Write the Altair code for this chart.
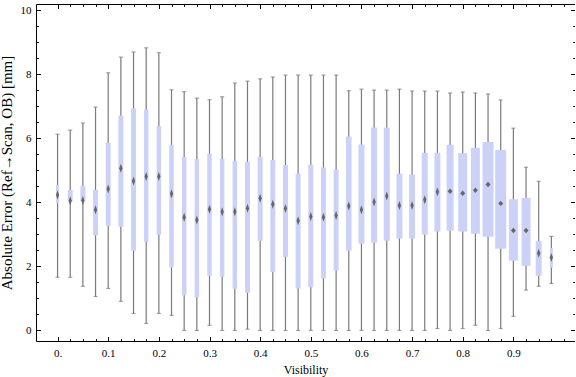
import altair as alt
import pandas as pd

# ---------------- data ----------------
visibility = [0.000, 0.025, 0.050, 0.075, 0.100, 0.125, 0.150, 0.175, 0.200, 0.225,
              0.250, 0.275, 0.300, 0.325, 0.350, 0.375, 0.400, 0.425, 0.450, 0.475,
              0.500, 0.525, 0.550, 0.575, 0.600, 0.625, 0.650, 0.675, 0.700, 0.725,
              0.750, 0.775, 0.800, 0.825, 0.850, 0.875, 0.900, 0.925, 0.950, 0.975]
whisker_low = [1.66, 1.66, 1.38, 1.06, 1.31, 0.91, 0.53, 0.22, 0.53, 0.47,
               0.00, 0.00, 0.16, 0.00, 0.00, 0.04, 0.00, 0.00, 0.00, 0.00,
               0.00, 0.00, 0.00, 0.00, 0.00, 0.00, 0.00, 0.00, 0.00, 0.00,
               0.06, 0.00, 0.06, 0.16, 0.00, 0.06, 0.44, 1.26, 1.38, 1.47]
quartile1 = [3.97, 4.03, 4.03, 2.97, 3.27, 3.24, 2.49, 2.77, 2.99, 1.97,
             1.10, 1.04, 1.70, 1.68, 1.30, 1.18, 2.80, 1.82, 2.30, 1.31,
             1.35, 1.63, 1.87, 2.49, 2.71, 2.74, 2.80, 2.87, 2.87, 2.99,
             3.09, 3.12, 3.09, 3.02, 2.93, 2.55, 2.18, 2.02, 1.71, 1.96]
median = [4.23, 4.05, 4.06, 3.77, 4.42, 5.07, 4.67, 4.81, 4.81, 4.27,
          3.54, 3.45, 3.79, 3.71, 3.71, 3.82, 4.13, 3.94, 3.81, 3.43,
          3.56, 3.54, 3.59, 3.89, 3.77, 4.01, 4.20, 3.90, 3.90, 4.08,
          4.33, 4.35, 4.29, 4.38, 4.56, 3.97, 3.12, 3.12, 2.41, 2.28]
quartile3 = [4.55, 4.39, 4.52, 4.39, 5.86, 6.71, 6.94, 6.90, 6.39, 5.80,
             5.42, 5.35, 5.52, 5.36, 5.30, 5.27, 5.42, 5.33, 5.17, 4.90,
             5.18, 5.09, 5.02, 6.06, 5.81, 6.34, 6.34, 4.90, 4.87, 5.55,
             5.55, 5.80, 5.54, 5.71, 5.89, 5.64, 4.10, 4.14, 2.79, 2.58]
whisker_high = [6.13, 6.26, 6.48, 6.98, 8.05, 8.54, 8.70, 8.83, 8.68, 7.52,
                7.46, 7.26, 7.21, 7.30, 7.73, 7.79, 7.86, 7.92, 7.98, 7.98,
                7.98, 7.98, 7.98, 7.49, 7.54, 7.51, 7.51, 7.54, 7.48, 7.48,
                7.48, 7.42, 7.45, 7.42, 7.39, 7.20, 6.32, 5.10, 4.66, 2.94]
# relative box widths as drawn in the reference
box_width = [3, 5, 5, 5, 5, 5, 5, 4.5, 4.5, 4.5,
             4.5, 4.5, 4.5, 4.5, 4.5, 5, 5, 5, 5, 5,
             5, 5, 5, 5.5, 6, 6, 6, 6, 6, 6,
             6, 7, 9, 9, 11, 11, 9, 9, 6, 3]

x_major = [0.0, 0.1, 0.2, 0.3, 0.4, 0.5, 0.6, 0.7, 0.8, 0.9]
x_minor = [0.0, 0.025, 0.05, 0.075, 0.1, 0.125, 0.15, 0.175, 0.2, 0.225, 0.25, 0.275,
           0.3, 0.325, 0.35, 0.375, 0.4, 0.425, 0.45, 0.475, 0.5, 0.525, 0.55, 0.575,
           0.6, 0.625, 0.65, 0.675, 0.7, 0.725, 0.75, 0.775, 0.8, 0.825, 0.85, 0.875,
           0.9, 0.925, 0.95, 0.975, 1.0]
y_major = [0, 2, 4, 6, 8, 10]
y_minor = [0, 0.5, 1, 1.5, 2, 2.5, 3, 3.5, 4, 4.5, 5, 5.5, 6, 6.5, 7, 7.5, 8, 8.5,
           9, 9.5, 10]

df = pd.DataFrame({
    "vis": visibility, "lo": whisker_low, "q1": quartile1, "med": median,
    "q3": quartile3, "hi": whisker_high, "w": box_width,
})

# ---------------- styling ----------------
FONT = "Liberation Serif"
BOX = "#CCD2F7"
WHISK = "#7a7a7a"
MED = "#666666"
MAJ, MIN = 4.5, 2.3

xs = alt.Scale(domain=[-0.0327, 1.0118], nice=False, zero=False)
ys = alt.Scale(domain=[-0.33, 10.2], nice=False, zero=False)


def axis(orient, values, size, labels=False, title=None, title_size=12, **kw):
    return alt.Axis(orient=orient, values=values, tickSize=size, offset=-size,
                    domain=False, grid=False, labels=labels, ticks=True,
                    tickColor="black", tickWidth=1, title=title,
                    labelFont=FONT, labelFontSize=11, labelColor="black",
                    titleFont=FONT, titleFontSize=title_size, titleFontWeight="normal",
                    titleColor="black", **kw)


x_bottom = axis("bottom", x_major, MAJ, labels=True, title="Visibility",
                labelPadding=6, titlePadding=6,
                labelExpr="datum.value == 0 ? '0.' : format(datum.value, '.1f')")
y_left = axis("left", y_major, MAJ, labels=True,
              title="Absolute Error (Ref\u2192Scan, OB) [mm]", title_size=15,
              labelPadding=5, titlePadding=6, format="d")

base = alt.Chart(df)

whiskers = base.mark_rule(color=WHISK, strokeWidth=1.2).encode(
    x=alt.X("vis:Q", scale=xs, axis=x_bottom),
    y=alt.Y("lo:Q", scale=ys, axis=y_left),
    y2="hi:Q",
)

caps_lo = base.mark_tick(orient="horizontal", color=WHISK, size=4, thickness=1.2).encode(
    x=alt.X("vis:Q", scale=xs, axis=axis("bottom", x_minor, MIN)),
    y=alt.Y("lo:Q", scale=ys, axis=axis("left", y_minor, MIN)),
)

caps_hi = base.mark_tick(orient="horizontal", color=WHISK, size=4, thickness=1.2).encode(
    x=alt.X("vis:Q", scale=xs, axis=axis("top", x_major, MAJ)),
    y=alt.Y("hi:Q", scale=ys, axis=axis("right", y_major, MAJ)),
)

boxes = base.mark_bar(color=BOX, opacity=1).encode(
    x=alt.X("vis:Q", scale=xs, axis=axis("top", x_minor, MIN)),
    y=alt.Y("q1:Q", scale=ys, axis=axis("right", y_minor, MIN)),
    y2="q3:Q",
    size=alt.Size("w:Q", scale=None, legend=None),
)

TALL = "M0,-1L0.36,0L0,1L-0.36,0Z"
ROUND = "M0,-1L0.9,0L0,1L-0.9,0Z"
medians = base.mark_point(filled=True, opacity=1, color=MED, strokeWidth=0).encode(
    x=alt.X("vis:Q", scale=xs, axis=None),
    y=alt.Y("med:Q", scale=ys, axis=None),
    shape=alt.condition(alt.datum.w >= 7, alt.value(ROUND), alt.value(TALL)),
    size=alt.condition(alt.datum.w >= 7, alt.value(30), alt.value(81)),
)

chart = alt.layer(whiskers, caps_lo, caps_hi, boxes, medians).resolve_axis(
    x="independent", y="independent"
).properties(
    width=539, height=337,
    padding={"left": 36, "top": 4, "right": 0, "bottom": 36},
    autosize="none",
    background="white",
).configure_view(stroke="black", strokeWidth=1)

chart.save("out.html", embed_options={"renderer": "svg", "actions": False})
